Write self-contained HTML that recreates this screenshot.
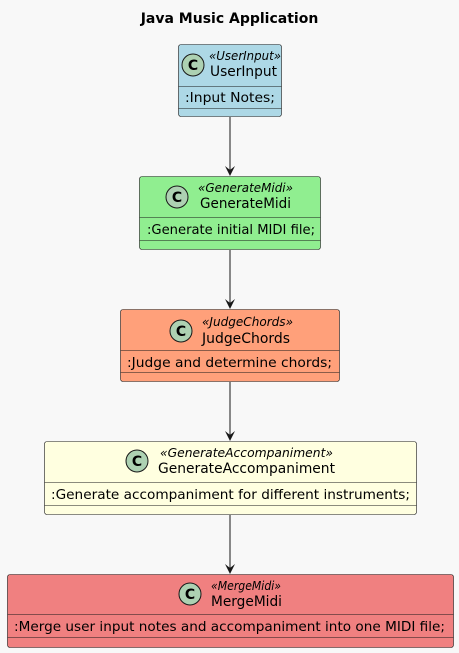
<!DOCTYPE html>
<html><head><meta charset="utf-8"><style>
html,body{margin:0;padding:0;background:#f8f8f8;}
svg{display:block;font-family:"DejaVu Sans","Liberation Sans",sans-serif;}
</style></head><body>
<svg width="459" height="653" viewBox="0 0 459 653" xmlns="http://www.w3.org/2000/svg">
<text x="229.5" y="23" text-anchor="middle" font-size="14" font-weight="bold" fill="#000">Java Music Application</text>
<g stroke="#181818" stroke-width="1">
<line x1="230" y1="117" x2="230" y2="172"/>
<line x1="230" y1="250" x2="230" y2="305"/>
<line x1="230" y1="382" x2="230" y2="437"/>
<line x1="230" y1="515" x2="230" y2="570"/>
</g>
<g fill="#181818">
<path d="M225,166 L230,176 L235,166 L230,170 Z"/>
<path d="M225,299 L230,309 L235,299 L230,303 Z"/>
<path d="M225,431 L230,441 L235,431 L230,435 Z"/>
<path d="M225,564 L230,574 L235,564 L230,568 Z"/>
</g>
<g>
<rect x="178.5" y="44.5" width="103" height="72" rx="2.5" fill="#ADD8E6" stroke="#181818" stroke-width="0.6"/>
<line x1="178.5" y1="86.5" x2="281.5" y2="86.5" stroke="#181818" stroke-width="0.6"/>
<line x1="178.5" y1="108.5" x2="281.5" y2="108.5" stroke="#181818" stroke-width="0.6"/>
<circle cx="193" cy="65" r="11" fill="#ADD1B2" stroke="#181818"/>
<text x="193" y="70" text-anchor="middle" font-size="14" font-weight="bold">C</text>
<text x="209" y="60" font-size="12" font-style="italic" textLength="72" lengthAdjust="spacingAndGlyphs">«UserInput»</text>
<text x="210" y="76" font-size="14" textLength="67" lengthAdjust="spacingAndGlyphs">UserInput</text>
<text x="185" y="102" font-size="13.6" textLength="90" lengthAdjust="spacingAndGlyphs">:Input Notes;</text>
</g>
<g>
<rect x="139.5" y="176.5" width="181" height="73" rx="2.5" fill="#90EE90" stroke="#181818" stroke-width="0.6"/>
<line x1="139.5" y1="217.5" x2="320.5" y2="217.5" stroke="#181818" stroke-width="0.6"/>
<line x1="139.5" y1="240.5" x2="320.5" y2="240.5" stroke="#181818" stroke-width="0.6"/>
<circle cx="177" cy="197" r="11" fill="#ADD1B2" stroke="#181818"/>
<text x="177" y="202" text-anchor="middle" font-size="14" font-weight="bold">C</text>
<text x="198" y="192" font-size="12" font-style="italic" textLength="95" lengthAdjust="spacingAndGlyphs">«GenerateMidi»</text>
<text x="200" y="208" font-size="14" textLength="91" lengthAdjust="spacingAndGlyphs">GenerateMidi</text>
<text x="147" y="234" font-size="13.6" textLength="168" lengthAdjust="spacingAndGlyphs">:Generate initial MIDI file;</text>
</g>
<g>
<rect x="120.5" y="309.5" width="219" height="72" rx="2.5" fill="#FFA07A" stroke="#181818" stroke-width="0.6"/>
<line x1="120.5" y1="350.5" x2="339.5" y2="350.5" stroke="#181818" stroke-width="0.6"/>
<line x1="120.5" y1="372.5" x2="339.5" y2="372.5" stroke="#181818" stroke-width="0.6"/>
<circle cx="181" cy="331" r="11" fill="#ADD1B2" stroke="#181818"/>
<text x="181" y="336" text-anchor="middle" font-size="14" font-weight="bold">C</text>
<text x="202" y="326" font-size="12" font-style="italic" textLength="91" lengthAdjust="spacingAndGlyphs">«JudgeChords»</text>
<text x="202" y="343" font-size="14" textLength="88" lengthAdjust="spacingAndGlyphs">JudgeChords</text>
<text x="127" y="367" font-size="13.6" textLength="205" lengthAdjust="spacingAndGlyphs">:Judge and determine chords;</text>
</g>
<g>
<rect x="44.5" y="441.5" width="372" height="73" rx="2.5" fill="#FFFFE0" stroke="#181818" stroke-width="0.6"/>
<line x1="44.5" y1="482.5" x2="416.5" y2="482.5" stroke="#181818" stroke-width="0.6"/>
<line x1="44.5" y1="505.5" x2="416.5" y2="505.5" stroke="#181818" stroke-width="0.6"/>
<circle cx="137" cy="461" r="11" fill="#ADD1B2" stroke="#181818"/>
<text x="137" y="466" text-anchor="middle" font-size="14" font-weight="bold">C</text>
<text x="160" y="457" font-size="12" font-style="italic" textLength="173" lengthAdjust="spacingAndGlyphs">«GenerateAccompaniment»</text>
<text x="158" y="473" font-size="14" textLength="177" lengthAdjust="spacingAndGlyphs">GenerateAccompaniment</text>
<text x="51" y="499" font-size="13.6" textLength="359" lengthAdjust="spacingAndGlyphs">:Generate accompaniment for different instruments;</text>
</g>
<g>
<rect x="7.5" y="574.5" width="446" height="73" rx="2.5" fill="#F08080" stroke="#181818" stroke-width="0.6"/>
<line x1="7.5" y1="614.5" x2="453.5" y2="614.5" stroke="#181818" stroke-width="0.6"/>
<line x1="7.5" y1="637.5" x2="453.5" y2="637.5" stroke="#181818" stroke-width="0.6"/>
<circle cx="190" cy="594" r="11" fill="#ADD1B2" stroke="#181818"/>
<text x="190" y="599" text-anchor="middle" font-size="14" font-weight="bold">C</text>
<text x="211" y="590" font-size="12" font-style="italic" textLength="70" lengthAdjust="spacingAndGlyphs">«MergeMidi»</text>
<text x="211" y="606" font-size="14" textLength="71" lengthAdjust="spacingAndGlyphs">MergeMidi</text>
<text x="14" y="631" font-size="13.6" textLength="431" lengthAdjust="spacingAndGlyphs">:Merge user input notes and accompaniment into one MIDI file;</text>
</g>
</svg>
</body></html>
